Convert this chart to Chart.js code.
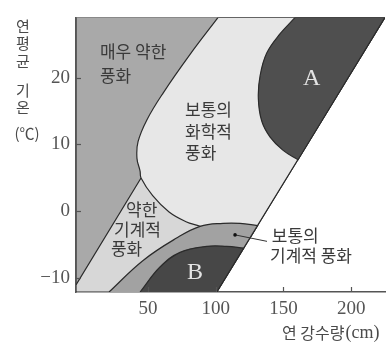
<!DOCTYPE html>
<html>
<head>
<meta charset="utf-8">
<script src="https://cdn.jsdelivr.net/npm/chart.js@4.4.1/dist/chart.umd.min.js"></script>
<style>
  html, body { margin: 0; padding: 0; background: #fff; }
</style>
</head>
<body>
<canvas id="weatherChart" width="387" height="346"></canvas>
<script>
// 축 범위와 눈금
const xRange = [-3.1, 225];
const yRange = [-12.15, 29.05];
const xTicks = [50, 100, 150, 200];
const yTicks = [-10, 0, 10, 20];

// 경계선 (연 강수량 cm, 연평균 기온 ℃) - 그림에서 읽은 값
const cCurve = [[101.8, 29.05], [81.1, 23.5], [61.2, 17.7], [49.3, 13.7], [42.7, 10.4], [41.9, 7.9],
                [44.2, 6.0], [44.9, 4.96], [53.5, 2.3], [65.6, -0.15], [78.1, -1.6], [88.5, -2.3]];
const junction = [44.9, 4.96];
const weakLineEnd = [-3.1, -11.1];
const outerArc = [[21.3, -12.15], [46.2, -7.45], [70.8, -4.1], [88.5, -2.3], [105.5, -1.85], [118, -1.85], [130.9, -2.2]];
const innerArc = [[44.2, -12.15], [58.9, -8.4], [73.7, -6.2], [93.4, -5.3], [108.2, -5.3], [120.7, -5.55]];
const aCurve = [[158.7, 29.05], [147.6, 26.6], [137.7, 23.7], [132.8, 20.3], [131.5, 16.9], [134, 13.5],
                [140.2, 11.1], [149.8, 9.1], [160.8, 7.7]];
const diagonal = [[100.8, -12.15], [225, 29.05]];

// 글자 위치 (자료 좌표)
const notes = [
  { text: '매우 약한', x: 14.6, y: 23.9 },
  { text: '풍화', x: 14.6, y: 20.4 },
  { text: '보통의', x: 77.4, y: 15.2 },
  { text: '화학적', x: 77.4, y: 11.9 },
  { text: '풍화', x: 77.4, y: 8.8 },
  { text: '약한', x: 33.8, y: 0.26 },
  { text: '기계적', x: 25.0, y: -2.8 },
  { text: '풍화', x: 22.7, y: -5.6 },
  { text: '보통의', x: 141.4, y: -3.7 },
  { text: '기계적 풍화', x: 140.1, y: -6.75 }
];
const letters = [
  { text: 'A', x: 170.9, y: 19.8 },
  { text: 'B', x: 84.7, y: -9.2 }
];
const leader = [[114.3, -3.58], [137.9, -4.55]];

const last = a => a[a.length - 1];
const xmin = xRange[0], ymin = yRange[0], ymax = yRange[1];

// 영역 (아래에서 위로 그리는 순서)
const regions = [
  { label: '매우 약한 풍화', color: '#a9a9a9', tension: 0,
    pts: [[xmin, ymin], [xmin, ymax], diagonal[1], diagonal[0]] },
  { label: '약한 기계적 풍화', color: '#d7d7d7', tension: 0,
    pts: [junction, weakLineEnd, [xmin, ymin], [80, ymin], [100, -3], [75, 3]] },
  { label: '보통의 화학적 풍화', color: '#e7e7e7', tension: 0.4,
    pts: [...cCurve, [100, -3.3], [125, -4.12], [125, -4.12], diagonal[1], diagonal[1], cCurve[0]] },
  { label: '보통의 기계적 풍화', color: '#a2a2a2', tension: 0.4,
    pts: [...outerArc, last(outerArc), diagonal[0]] },
  { label: 'B', color: '#474747', tension: 0.4,
    pts: [...innerArc, last(innerArc), diagonal[0]] },
  { label: 'A', color: '#4f4f4f', tension: 0.4,
    pts: [diagonal[1], aCurve[0], ...aCurve, last(aCurve), diagonal[1]] }
];

const datasets = regions.map((r, i) => ({
  label: r.label,
  data: r.pts.map(p => ({ x: p[0], y: p[1] })),
  backgroundColor: r.color,
  borderColor: '#2b2b2b',
  borderWidth: 1.2,
  fill: 'shape',
  tension: r.tension,
  pointRadius: 0,
  order: regions.length - i
}));

const serif = 'Liberation Serif, DejaVu Serif, serif';
const kor = '"Noto Sans CJK KR", "Noto Sans", sans-serif';

// 눈금 표시와 글자
const notesPlugin = {
  id: 'notes',
  afterDraw(chart) {
    const { ctx, chartArea, scales: { x, y } } = chart;
    ctx.save();
    ctx.strokeStyle = '#555';
    ctx.lineWidth = 1.2;
    xTicks.forEach(v => {
      const px = Math.round(x.getPixelForValue(v)) + 0.5;
      ctx.beginPath();
      ctx.moveTo(px, chartArea.bottom);
      ctx.lineTo(px, chartArea.bottom - 5);
      ctx.stroke();
    });
    yTicks.forEach(v => {
      const py = Math.round(y.getPixelForValue(v)) + 0.5;
      ctx.beginPath();
      ctx.moveTo(chartArea.left, py);
      ctx.lineTo(chartArea.left + 5, py);
      ctx.stroke();
    });

    // 지시선
    ctx.strokeStyle = '#333';
    ctx.lineWidth = 1;
    ctx.beginPath();
    ctx.moveTo(x.getPixelForValue(leader[0][0]), y.getPixelForValue(leader[0][1]));
    ctx.lineTo(x.getPixelForValue(leader[1][0]), y.getPixelForValue(leader[1][1]));
    ctx.stroke();
    ctx.fillStyle = '#111';
    ctx.beginPath();
    ctx.arc(x.getPixelForValue(leader[0][0]), y.getPixelForValue(leader[0][1]), 1.8, 0, Math.PI * 2);
    ctx.fill();

    ctx.textBaseline = 'middle';
    ctx.textAlign = 'left';
    ctx.fillStyle = '#3a3a3a';
    ctx.font = '17px ' + kor;
    notes.forEach(n => {
      ctx.fillText(n.text, x.getPixelForValue(n.x), y.getPixelForValue(n.y));
    });

    ctx.textAlign = 'center';
    ctx.fillStyle = '#e4e4e4';
    ctx.font = '24px ' + serif;
    letters.forEach(n => {
      ctx.fillText(n.text, x.getPixelForValue(n.x), y.getPixelForValue(n.y));
    });

    // 축 제목
    ctx.fillStyle = '#4a4a4a';
    ctx.font = '15px ' + kor;
    [['연', 26], ['평', 43.5], ['균', 61.5], ['기', 90], ['온', 107.5]].forEach(([t, py]) => {
      ctx.fillText(t, 23, py);
    });
    ctx.fillText('(℃)', 27, 133);

    ctx.textAlign = 'left';
    ctx.font = '16px ' + kor;
    ctx.fillText('연 강수량', 282, 333);
    const w = ctx.measureText('연 강수량').width;
    ctx.font = '18px ' + serif;
    ctx.fillText('(cm)', 282 + w + 1, 333);
    ctx.restore();
  }
};

new Chart(document.getElementById('weatherChart').getContext('2d'), {
  type: 'line',
  data: { datasets: datasets },
  options: {
    responsive: false,
    animation: false,
    events: [],
    layout: { padding: { top: 10, right: 2, left: 0, bottom: 0 } },
    plugins: {
      legend: { display: false },
      tooltip: { enabled: false }
    },
    scales: {
      x: {
        type: 'linear',
        min: xRange[0],
        max: xRange[1],
        z: 1,
        afterBuildTicks: s => { s.ticks = xTicks.map(v => ({ value: v })); },
        afterFit: s => { s.height = 54; },
        grid: { display: false, drawTicks: false },
        border: { display: true, color: '#555', width: 1.5 },
        ticks: { font: { family: serif, size: 19 }, color: '#555', padding: 6, maxRotation: 0, autoSkip: false }
      },
      y: {
        type: 'linear',
        min: yRange[0],
        max: yRange[1],
        z: 1,
        afterBuildTicks: s => { s.ticks = yTicks.map(v => ({ value: v })); },
        afterFit: s => { s.width = 76; },
        grid: { display: false, drawTicks: false },
        border: { display: true, color: '#555', width: 1.5 },
        ticks: {
          font: { family: serif, size: 19 }, color: '#555', padding: 6, autoSkip: false,
          callback: v => v < 0 ? '−' + Math.abs(v) : String(v)
        }
      }
    }
  },
  plugins: [notesPlugin]
});
</script>
</body>
</html>
